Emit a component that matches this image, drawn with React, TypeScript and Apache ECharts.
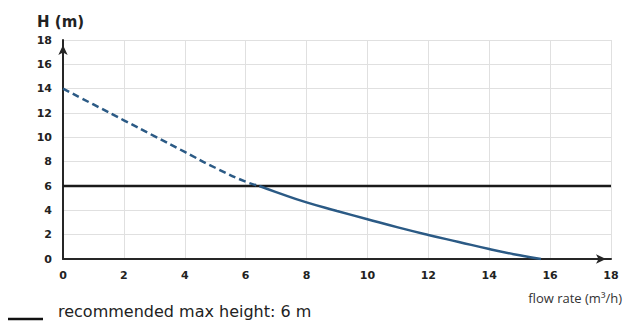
import React, { useEffect, useRef } from "react";
import * as echarts from "echarts";

const xTicks = [0, 2, 4, 6, 8, 10, 12, 14, 16, 18];
const yTicks = [0, 2, 4, 6, 8, 10, 12, 14, 16, 18];
const dashedCurve: [number, number][] = [
  [0, 14], [1, 12.7], [2, 11.4], [3, 10.1], [4, 8.8], [5, 7.5], [6, 6.35], [6.45, 6],
];
const solidCurve: [number, number][] = [
  [6.45, 6], [7, 5.5], [8, 4.65], [9, 3.95], [10, 3.27], [11, 2.6], [12, 1.98],
  [13, 1.4], [14, 0.82], [15, 0.3], [15.7, 0],
];
const maxHeight: [number, number][] = [[0, 6], [18, 6]];
const yName = "H (m)";
const xName = "flow rate (m³/h)";
const legendText = "recommended max height: 6 m";

const TICKFONT = "'DejaVu Sans', sans-serif";
const TEXTFONT = "'Open Sans', sans-serif";

export default function App() {
  const ref = useRef<HTMLDivElement>(null);
  useEffect(() => {
    document.body.style.margin = "0";
    const chart = echarts.init(ref.current!, null, { renderer: "svg" });
    chart.setOption({
      animation: false,
      backgroundColor: "#ffffff",
      grid: { left: 63, right: 16, top: 40, bottom: 64 },
      xAxis: {
        type: "value",
        min: 0,
        max: 18,
        interval: 2,
        axisLine: {
          show: true,
          onZero: false,
          lineStyle: { color: "#262626", width: 2 },
          symbol: ["none", "arrow"],
          symbolSize: [7, 10],
          symbolOffset: [0, -5],
        },
        axisTick: { show: false },
        splitLine: { show: true, lineStyle: { color: "#e0e0e0", width: 1 } },
        axisLabel: {
          margin: 11,
          color: "#222",
          fontFamily: TICKFONT,
          fontWeight: "bold",
          fontSize: 11,
          formatter: (v: number) => (xTicks.includes(v) ? String(v) : ""),
        },
      },
      yAxis: {
        type: "value",
        min: 0,
        max: 18,
        interval: 2,
        axisLine: {
          show: true,
          onZero: false,
          lineStyle: { color: "#262626", width: 2 },
          symbol: ["none", "arrow"],
          symbolSize: [7, 10],
          symbolOffset: [0, -5],
        },
        axisTick: { show: false },
        splitLine: { show: true, lineStyle: { color: "#e0e0e0", width: 1 } },
        axisLabel: {
          margin: 11,
          color: "#222",
          fontFamily: TICKFONT,
          fontWeight: "bold",
          fontSize: 11,
          formatter: (v: number) => (yTicks.includes(v) ? String(v) : ""),
        },
      },
      series: [
        {
          type: "line",
          data: maxHeight,
          showSymbol: false,
          lineStyle: { color: "#1a1a1a", width: 2.5 },
          z: 3,
        },
        {
          type: "line",
          data: dashedCurve,
          smooth: true,
          showSymbol: false,
          lineStyle: { color: "#2b5a85", width: 2.5, type: [7, 4] },
          z: 4,
        },
        {
          type: "line",
          data: solidCurve,
          smooth: true,
          showSymbol: false,
          lineStyle: { color: "#2b5a85", width: 2.5 },
          z: 4,
        },
      ],
      graphic: [
        {
          type: "text",
          left: 37,
          top: 14,
          style: {
            text: yName,
            fill: "#222",
            font: `bold 15px ${TICKFONT}`,
          },
        },
        {
          type: "text",
          right: 5,
          top: 291,
          style: {
            text: xName,
            fill: "#333",
            font: `13px ${TEXTFONT}`,
          },
        },
        {
          type: "line",
          shape: { x1: 8, y1: 319, x2: 43, y2: 319 },
          style: { stroke: "#111", lineWidth: 2.5 },
        },
        {
          type: "text",
          left: 58,
          top: 303,
          style: {
            text: legendText,
            fill: "#222",
            font: `16px ${TICKFONT}`,
          },
        },
      ],
    });
    return () => chart.dispose();
  }, []);
  return <div ref={ref} style={{ width: 627, height: 323 }} />;
}
